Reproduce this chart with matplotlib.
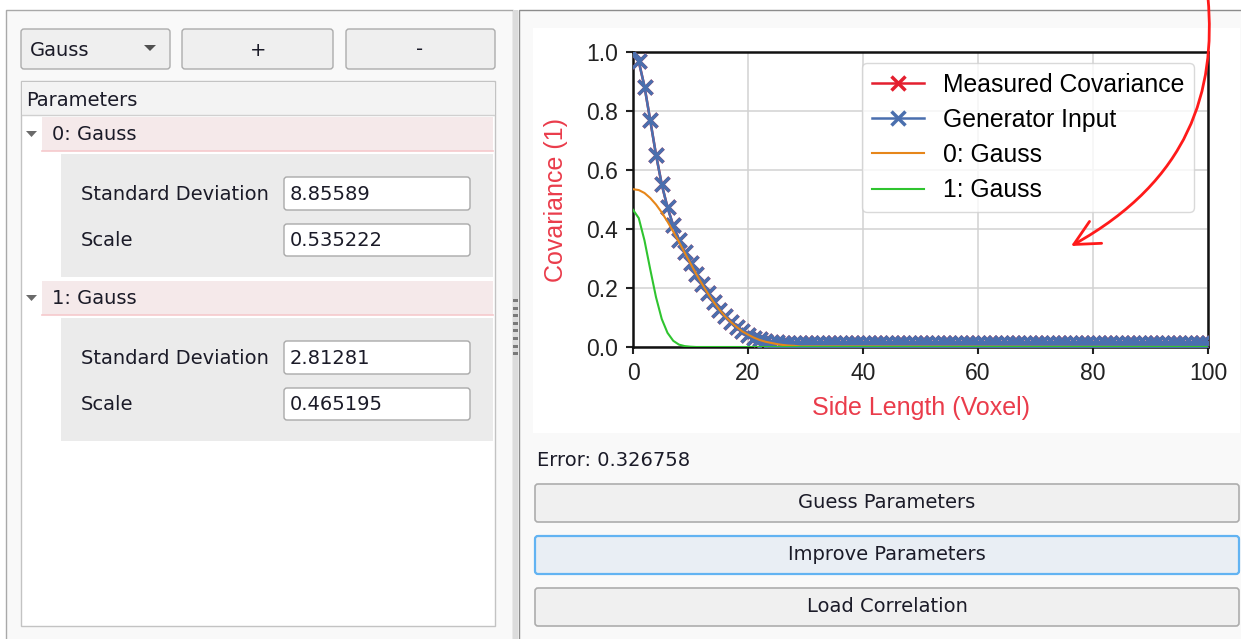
import matplotlib
matplotlib.use('Agg')
import matplotlib.pyplot as plt
from matplotlib.patches import FancyBboxPatch, Rectangle, Polygon, FancyArrowPatch, ArrowStyle
from matplotlib.path import Path

# values (x in voxels)
steps = list(range(0, 101))
measured = [1.0, 0.968, 0.883, 0.768, 0.652, 0.551, 0.473, 0.412, 0.364, 0.322,
            0.284, 0.247, 0.214, 0.182, 0.153, 0.127, 0.105, 0.085, 0.068, 0.054,
            0.042, 0.032, 0.026, 0.021, 0.018, 0.016, 0.015, 0.014, 0.013, 0.013] + [0.013] * 71
generator = [1.0, 0.968, 0.883, 0.768, 0.652, 0.551, 0.473, 0.412, 0.364, 0.322,
             0.284, 0.247, 0.214, 0.182, 0.153, 0.127, 0.105, 0.085, 0.068, 0.054,
             0.042, 0.032, 0.026, 0.021, 0.018, 0.016, 0.015, 0.014, 0.013, 0.013] + [0.013] * 71

curve_x = list(range(0, 31)) + [100]
gauss0 = [0.535, 0.532, 0.522, 0.505, 0.483, 0.456, 0.425, 0.391, 0.356, 0.319,
          0.283, 0.247, 0.214, 0.182, 0.153, 0.127, 0.104, 0.085, 0.068, 0.053,
          0.042, 0.032, 0.024, 0.018, 0.014, 0.010, 0.007, 0.005, 0.004, 0.002,
          0.002, 0.0]
gauss1 = [0.465, 0.437, 0.361, 0.263, 0.169, 0.095, 0.048, 0.021, 0.008, 0.003,
          0.001, 0.0, 0.0, 0.0, 0.0, 0.0, 0.0, 0.0, 0.0, 0.0,
          0.0, 0.0, 0.0, 0.0, 0.0, 0.0, 0.0, 0.0, 0.0, 0.0,
          0.0, 0.0]

legend_labels = ['Measured Covariance', 'Generator Input', '0: Gauss', '1: Gauss']
x_ticks = [0, 20, 40, 60, 80, 100]
y_ticks = [0.0, 0.2, 0.4, 0.6, 0.8, 1.0]

params = [('0: Gauss', '8.85589', '0.535222'), ('1: Gauss', '2.81281', '0.465195')]
error_text = 'Error: 0.326758'
buttons = ['Guess Parameters', 'Improve Parameters', 'Load Correlation']

W, H = 1241, 639
fig = plt.figure(figsize=(W / 100, H / 100), dpi=100)
fig.patch.set_facecolor('white')

# background axes in pixel coordinates for the widgets
bg = fig.add_axes([0, 0, 1, 1])
bg.set_xlim(0, W)
bg.set_ylim(H, 0)
bg.axis('off')

UI = 'DejaVu Sans'
UIS = 14
txt_col = '#1b1b28'


def box(x0, y0, x1, y1, fc, ec, lw=1.0, r=3, z=1):
    bg.add_patch(FancyBboxPatch((x0, y0), x1 - x0, y1 - y0,
                                boxstyle=f'round,pad=0,rounding_size={r}',
                                fc=fc, ec=ec, lw=lw, zorder=z))


def rect(x0, y0, x1, y1, fc, ec='none', lw=0, z=1):
    bg.add_patch(Rectangle((x0, y0), x1 - x0, y1 - y0, fc=fc, ec=ec, lw=lw, zorder=z))


# panels
rect(6, 10, 513, H + 2, '#f9f9f9', '#a9a9a9', 1.0)
rect(519, 10, W + 2, H + 2, '#f9f9f9', '#8c8c8c', 1.0)
rect(513, 10, 518, H, '#dcdcdc')
for k in range(8):
    rect(513, 299 + k * 7.6, 518, 302 + k * 7.6, '#7a7a7a', z=2)

# top row widgets
box(21, 29, 170, 69, '#efefef', '#acacac', 1.0)
bg.text(30, 50, 'Gauss', fontsize=UIS, family=UI, color=txt_col, va='center')
bg.add_patch(Polygon([[144, 45], [156, 45], [150, 51]], closed=True, fc='#505050', ec='none', zorder=3))
box(182, 29, 333, 69, '#efefef', '#acacac', 1.0)
bg.text(258, 50, '+', fontsize=UIS, family=UI, color=txt_col, va='center', ha='center')
box(346, 29, 495, 69, '#efefef', '#acacac', 1.0)
bg.text(420, 50, '-', fontsize=UIS, family=UI, color=txt_col, va='center', ha='center')

# parameter tree
rect(21, 81, 495, 626, 'white', '#c3c3c3', 1.0)
rect(22, 82, 494, 115, '#f3f3f3')
bg.plot([22, 494], [115, 115], color='#d0d0d0', lw=1.0, zorder=2)
bg.text(26, 100, 'Parameters', fontsize=UIS, family=UI, color=txt_col, va='center')

row_top = [117, 281]
for (name, sd, sc), y0 in zip(params, row_top):
    rect(42, y0, 493, y0 + 34, '#f5e9ea')
    bg.plot([42, 493], [y0 + 34, y0 + 34], color='#f6c9cc', lw=1.2, zorder=2)
    bg.add_patch(Polygon([[26, y0 + 14], [37, y0 + 14], [31.5, y0 + 20]], closed=True,
                         fc='#6a6a6a', ec='none', zorder=3))
    bg.text(52, y0 + 17, name, fontsize=UIS, family=UI, color=txt_col, va='center')
    rect(61, y0 + 37, 493, y0 + 160, '#ebebeb')
    bg.text(81, y0 + 78, 'Standard Deviation', fontsize=UIS, family=UI, color=txt_col, va='center')
    box(284, y0 + 60, 470, y0 + 93, 'white', '#a9a9a9', 1.0, r=3, z=2)
    bg.text(290, y0 + 77, sd, fontsize=UIS, family=UI, color=txt_col, va='center', zorder=3)
    bg.text(81, y0 + 124, 'Scale', fontsize=UIS, family=UI, color=txt_col, va='center')
    box(284, y0 + 107, 470, y0 + 139, 'white', '#a9a9a9', 1.0, r=3, z=2)
    bg.text(290, y0 + 123, sc, fontsize=UIS, family=UI, color=txt_col, va='center', zorder=3)

# right side: canvas, error text and buttons
rect(533, 28, 1240, 433, 'white')
bg.text(537, 461, error_text, fontsize=UIS, family=UI, color=txt_col, va='center')
btn_top = [484, 536, 588]
for label, y0 in zip(buttons, btn_top):
    if label == 'Improve Parameters':
        box(535, y0, 1239, y0 + 38, '#e9eef4', '#62b3f2', 1.6)
    else:
        box(535, y0, 1239, y0 + 38, '#f0f0f0', '#adadad', 1.2)
    bg.text(887, y0 + 19, label, fontsize=UIS, family=UI, color=txt_col, va='center', ha='center', zorder=3)

# the chart
ax = fig.add_axes([633 / W, (H - 347) / H, 575 / W, 295 / H])
ax.set_facecolor('white')
ax.plot(steps, measured, color='#e41f2f', lw=1.8, marker='x', ms=10.5, mew=2.5, label=legend_labels[0], zorder=3)
ax.plot(steps, generator, color='#4a6fae', lw=1.8, marker='x', ms=10.5, mew=2.5, label=legend_labels[1], zorder=4)
ax.plot(curve_x, gauss0, color='#e6861a', lw=1.5, label=legend_labels[2], zorder=5)
ax.plot(curve_x, gauss1, color='#2fc42f', lw=1.5, label=legend_labels[3], zorder=5)

ax.set_xlim(0, 100)
ax.set_ylim(0, 1.0)
ax.set_xticks(x_ticks)
ax.set_yticks(y_ticks)
ax.set_yticklabels([f'{v:.1f}' for v in y_ticks])
ax.grid(True, color='#d2d2d2', lw=1.1)
ax.set_axisbelow(True)
for s in ax.spines.values():
    s.set_color('#111111')
    s.set_linewidth(1.8)
ax.tick_params(direction='out', length=5, width=1.5, labelsize=16.5, colors='#222222', pad=6)
for lab in ax.get_xticklabels() + ax.get_yticklabels():
    lab.set_family('Liberation Sans')
ax.set_xlabel('Side Length (Voxel)', fontsize=18, color='#ea3c4b', family='Liberation Sans', labelpad=8)
ax.set_ylabel('Covariance (1)', fontsize=18, color='#ea3c4b', family='Liberation Sans', labelpad=13)

leg = ax.legend(loc='upper right', bbox_to_anchor=((1194 - 633) / 575, (347 - 63) / 295),
                borderaxespad=0, prop={'family': 'Liberation Sans', 'size': 17.8},
                handlelength=2.1, labelspacing=0.45, borderpad=0.4, handletextpad=0.75,
                framealpha=0.8, edgecolor='#d0d0d0', fancybox=True)
leg.get_frame().set_linewidth(1.0)

# red hand-drawn arrow on top
ov = fig.add_axes([0, 0, 1, 1], zorder=10)
ov.set_xlim(0, W)
ov.set_ylim(H, 0)
ov.axis('off')
ov.patch.set_alpha(0)
arrow_path = Path([(1208, -2), (1216, 90), (1190, 180), (1071, 246)],
                  [Path.MOVETO, Path.CURVE4, Path.CURVE4, Path.CURVE4])
ov.add_patch(FancyArrowPatch(path=arrow_path, arrowstyle=ArrowStyle('->', head_length=0.9, head_width=0.45),
                             mutation_scale=20, color='#ff1a1a', lw=2.0))

fig.savefig('out.png', dpi=100, facecolor=fig.get_facecolor())
